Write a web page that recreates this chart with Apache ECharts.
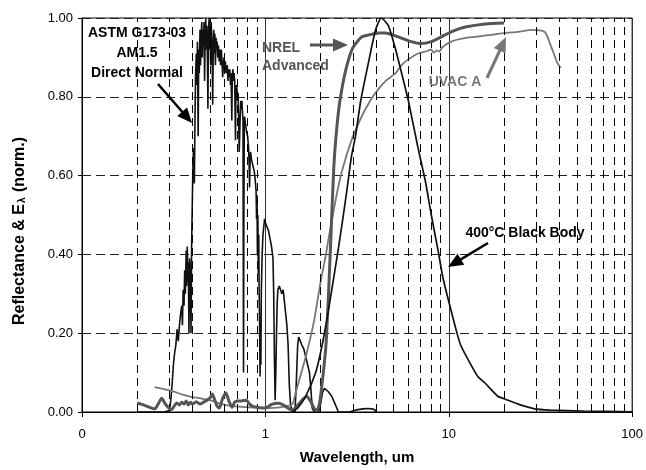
<!DOCTYPE html>
<html>
<head>
<meta charset="utf-8">
<script src="https://cdn.jsdelivr.net/npm/echarts@6/dist/echarts.min.js"></script>
<style>html,body{margin:0;padding:0;background:#fff;}#c{width:646px;height:470px;}</style>
</head>
<body>
<div id="c"></div>
<script>
// ---- data (wavelength in um, normalized value) ----
const astmWl = [
0.2,0.28,0.30,0.305,0.31,0.315,0.32,0.325,0.33,0.335,
0.34,0.345,0.35,0.353,0.356,0.36,0.363,0.366,0.37,0.372,
0.375,0.378,0.38,0.383,0.386,0.39,0.393,0.396,0.40,
0.403,0.406,0.41,0.413,0.416,0.42,0.423,0.426,0.43,0.433,
0.436,0.44,0.443,0.446,0.45,0.453,0.456,0.46,0.463,0.466,
0.47,0.473,0.476,0.48,0.483,0.486,0.489,0.492,0.495,0.498,
0.50,0.503,0.506,0.51,0.513,0.516,0.52,0.523,0.527,0.53,
0.534,0.538,0.542,0.546,0.55,0.555,0.56,0.565,0.57,0.575,
0.58,0.585,0.59,0.595,0.60,0.605,0.61,0.62,0.625,0.63,
0.635,0.64,0.645,0.65,0.656,0.66,0.665,0.67,0.675,0.68,
0.687,0.69,0.695,0.70,0.705,0.71,0.715,0.72,0.725,0.73,
0.735,0.74,0.745,0.75,0.755,0.76,0.763,0.767,0.77,
0.78,0.79,0.80,0.81,0.815,0.82,0.825,0.83,0.84,0.85,
0.86,0.87,0.88,0.89,0.895,0.90,0.905,0.91,0.915,0.92,
0.925,0.93,0.935,0.94,0.945,0.95,0.96,0.97,0.98,0.99,
1.00,1.02,1.04,1.06,1.08,1.10,1.11,1.12,1.13,1.14,
1.15,1.16,1.17,1.19,1.21,1.23,1.25,1.27,1.29,1.31,
1.33,1.35,1.37,1.40,1.45,1.47,1.50,1.52,1.55,1.58,
1.62,1.66,1.70,1.74,1.77,1.80,1.85,1.95,2.00,2.05,
2.10,2.15,2.20,2.25,2.30,2.35,2.40,2.45,2.50,2.9,
3.0,3.2,3.4,3.6,3.8,3.95,4.0];
const astmVal = [
0,0,0.004,0.03,0.07,0.12,0.15,0.17,0.21,0.18,
0.22,0.25,0.27,0.22,0.31,0.27,0.36,0.30,0.41,0.32,
0.42,0.33,0.38,0.20,0.39,0.34,0.20,0.42,0.55,
0.63,0.67,0.58,0.74,0.85,0.91,0.83,0.94,0.70,0.92,
0.86,0.97,0.88,0.95,0.99,0.90,0.97,0.93,0.99,0.84,
0.96,1.00,0.92,0.98,0.90,0.77,0.95,0.99,1.00,0.92,
0.97,0.88,0.99,0.95,0.91,0.78,0.93,0.97,0.91,0.96,
0.88,0.95,0.92,0.94,0.90,0.93,0.89,0.92,0.88,0.92,
0.89,0.85,0.88,0.90,0.87,0.89,0.86,0.88,0.84,0.87,
0.85,0.87,0.83,0.86,0.74,0.85,0.87,0.84,0.86,0.84,
0.69,0.80,0.83,0.82,0.79,0.81,0.74,0.66,0.71,0.76,
0.79,0.77,0.79,0.76,0.74,0.10,0.48,0.72,0.75,
0.73,0.71,0.70,0.67,0.63,0.57,0.64,0.66,0.64,0.63,
0.62,0.61,0.59,0.56,0.49,0.55,0.40,0.50,0.35,0.45,
0.30,0.22,0.09,0.18,0.12,0.30,0.40,0.45,0.47,0.49,
0.48,0.47,0.46,0.44,0.42,0.39,0.30,0.14,0.03,0.10,
0.20,0.28,0.31,0.32,0.31,0.30,0.31,0.28,0.25,0.22,
0.17,0.07,0.02,0,0,0.06,0.17,0.19,0.18,0.17,
0.16,0.14,0.12,0.10,0.06,0.01,0,0,0.02,0.05,
0.06,0.058,0.052,0.047,0.04,0.03,0.02,0.01,0,0,
0.003,0.006,0.008,0.009,0.008,0.006,0];

const nrelWl = [0.20,0.21,0.225,0.24,0.25,0.26,0.272,0.285,0.295,0.308,0.318,0.328,0.34,0.35,0.36,0.37,0.38,0.39,0.40,0.42,0.44,0.46,0.48,0.50,0.514,0.53,0.545,0.561,0.585,0.61,0.63,0.659,0.68,0.702,0.74,0.786,0.82,0.85,0.9,0.95,1.0,1.09,1.19,1.28,1.35,1.40,1.45,1.52,1.60,1.68,1.76,1.84,1.91,1.97,2.0,2.07,2.14,2.20,2.27,2.36,2.45,2.55,2.75,3.0,3.35,3.66,4.14,4.52,5.31,6.25,7.08,8.03,9.10,10.3,12.3,15.8,20.0];
const nrelVal = [0.023,0.02,0.015,0.01,0.008,0.02,0.035,0.02,0.012,0.006,0.015,0.023,0.018,0.025,0.02,0.028,0.018,0.025,0.02,0.026,0.02,0.025,0.03,0.036,0.046,0.03,0.015,0.01,0.035,0.048,0.03,0.012,0.025,0.028,0.028,0.03,0.02,0.015,0.012,0.01,0.01,0.02,0.022,0.015,0.008,0.005,0.01,0.02,0.032,0.04,0.028,0.01,0.003,0.02,0.04,0.10,0.17,0.28,0.43,0.62,0.72,0.79,0.87,0.925,0.952,0.957,0.962,0.962,0.952,0.94,0.935,0.94,0.952,0.965,0.977,0.985,0.987];

const uvacWl = [0.249,0.28,0.311,0.35,0.40,0.437,0.514,0.58,0.659,0.80,1.0,1.2,1.40,1.46,1.66,1.84,2.0,2.14,2.21,2.42,2.61,2.95,3.35,3.73,4.14,4.52,5.13,5.51,6.02,6.80,7.5,8.0,8.3,8.6,8.9,9.2,10.3,12.6,16.9,20.2,23.9,28.3,33.3,36,39.0,40.8];
const uvacVal = [0.063,0.058,0.053,0.045,0.038,0.035,0.028,0.02,0.015,0.012,0.01,0.012,0.02,0.048,0.14,0.23,0.33,0.40,0.44,0.54,0.61,0.69,0.75,0.79,0.82,0.84,0.86,0.88,0.895,0.91,0.915,0.92,0.912,0.918,0.915,0.925,0.94,0.95,0.957,0.962,0.965,0.97,0.965,0.93,0.887,0.874];

const bbWl = [1.40,1.50,1.66,1.88,2.04,2.21,2.51,2.74,2.95,3.10,3.31,3.66,3.99,4.29,4.69,5.13,5.67,6.02,6.80,7.46,8.03,8.74,9.30,9.88,10.8,11.6,13.2,14.4,15.8,18.5,20.2,23.9,29.4,35.8,54.5,100];
const bbVal = [0,0.01,0.04,0.10,0.17,0.26,0.42,0.54,0.65,0.70,0.79,0.89,0.97,1.0,0.98,0.92,0.84,0.79,0.67,0.585,0.50,0.41,0.34,0.29,0.22,0.17,0.12,0.09,0.073,0.04,0.033,0.02,0.008,0.005,0.0025,0.0005];

const minorGrid = [0.2,0.3,0.4,0.5,0.6,0.7,0.8,0.9,2,3,4,5,6,7,8,9,20,30,40,50,60,70,80,90];

const zip = (a, b) => a.map((x, i) => [x, b[i]]);
const FONT = 'Liberation Sans, Arial, sans-serif';

function arrow(x1, y1, x2, y2, color, lw, hl, hw) {
  const dx = x2 - x1, dy = y2 - y1, L = Math.hypot(dx, dy);
  const ux = dx / L, uy = dy / L, nx = -uy, ny = ux;
  const bx = x2 - ux * hl, by = y2 - uy * hl;
  return [
    {type: 'line', shape: {x1: x1, y1: y1, x2: bx + ux * 2, y2: by + uy * 2}, style: {stroke: color, lineWidth: lw}, z: 100},
    {type: 'polygon', shape: {points: [[x2, y2], [bx + nx * hw / 2, by + ny * hw / 2], [bx - nx * hw / 2, by - ny * hw / 2]]}, style: {fill: color}, z: 100}
  ];
}

const chart = echarts.init(document.getElementById('c'), null, {renderer: 'canvas'});
const option = {
  animation: false,
  backgroundColor: '#fff',
  textStyle: {fontFamily: FONT},
  grid: {left: 82, right: 11, top: 18, bottom: 54, show: true, borderColor: '#000', borderWidth: 1, backgroundColor: 'transparent'},
  xAxis: {
    type: 'log', logBase: 10, min: 0.1, max: 100,
    name: 'Wavelength, um', nameLocation: 'middle', nameGap: 38,
    nameTextStyle: {fontFamily: FONT, fontWeight: 'bold', fontSize: 15, color: '#000'},
    axisLine: {lineStyle: {color: '#000', width: 1}},
    axisTick: {show: true, length: 5, lineStyle: {color: '#000'}},
    axisLabel: {fontFamily: FONT, fontSize: 13, color: '#000', margin: 16,
      formatter: v => (v < 1 ? '0' : String(Math.round(v)))},
    splitLine: {show: true, lineStyle: {color: '#333', width: 1, type: 'solid'}},
    minorTick: {show: false}
  },
  yAxis: {
    type: 'value', min: 0, max: 1, interval: 0.2,
    axisLine: {show: true, lineStyle: {color: '#000', width: 1}},
    axisTick: {show: true, length: 4, lineStyle: {color: '#000'}},
    axisLabel: {fontFamily: FONT, fontSize: 13, color: '#000', margin: 9, formatter: v => v.toFixed(2)},
    splitLine: {show: true, lineStyle: {color: '#222', width: 1, type: [9, 5]}}
  },
  series: [
    {
      name: 'grid', type: 'line', data: [], silent: true, z: 1,
      markLine: {silent: true, symbol: ['none', 'none'], label: {show: false}, animation: false,
        lineStyle: {color: '#000', width: 1, type: [8, 5]},
        data: minorGrid.map(v => ({xAxis: v}))}
    },
    {name: 'ASTM G173-03', type: 'line', data: zip(astmWl, astmVal), showSymbol: false, symbol: 'none',
      lineStyle: {color: '#111', width: 1.6}, z: 3},
    {name: 'UVAC A', type: 'line', data: zip(uvacWl, uvacVal), showSymbol: false, symbol: 'none', smooth: 0.2,
      lineStyle: {color: '#777', width: 1.8}, z: 4},
    {name: 'NREL Advanced', type: 'line', data: zip(nrelWl, nrelVal), showSymbol: false, symbol: 'none', smooth: 0.2,
      lineStyle: {color: '#555', width: 3}, z: 5},
    {name: '400°C Black Body', type: 'line', data: zip(bbWl, bbVal), showSymbol: false, symbol: 'none', smooth: 0.2,
      lineStyle: {color: '#111', width: 1.7}, z: 6}
  ],
  graphic: [
    {type: 'text', x: 137, y: 23, z: 100, style: {text: 'ASTM G173-03\nAM1.5\nDirect Normal', fill: '#000', font: 'bold 14px ' + FONT, align: 'center', verticalAlign: 'top', lineHeight: 20}},
    {type: 'text', x: 262, y: 39, z: 100, style: {text: 'NREL\nAdvanced', fill: '#555', font: 'bold 14px ' + FONT, align: 'left', verticalAlign: 'top', lineHeight: 18}},
    {type: 'text', x: 455, y: 82, z: 100, style: {text: 'UVAC A', fill: '#777', font: 'bold 14px ' + FONT, align: 'center', verticalAlign: 'middle'}},
    {type: 'text', x: 525, y: 233, z: 100, style: {text: '400°C Black Body', fill: '#000', font: 'bold 14px ' + FONT, align: 'center', verticalAlign: 'middle'}},
    {type: 'text', x: 20, y: 231, rotation: Math.PI / 2, z: 100,
      style: {text: '{a|Reflectance & E}{b|λ}{a| (norm.)}', align: 'center', verticalAlign: 'middle',
        rich: {a: {font: 'bold 16px ' + FONT, fill: '#000'}, b: {font: 'bold 10px ' + FONT, fill: '#000', padding: [4, 1, 0, 1]}}}},
    ...arrow(158, 84, 192, 123, '#000', 2.5, 15, 13),
    ...arrow(310, 45, 348, 45, '#555', 3, 15, 13),
    ...arrow(487, 78, 506, 37, '#777', 3, 15, 13),
    ...arrow(488, 243, 448, 267, '#000', 2.5, 15, 13)
  ]
};
chart.setOption(option);
</script>
</body>
</html>
